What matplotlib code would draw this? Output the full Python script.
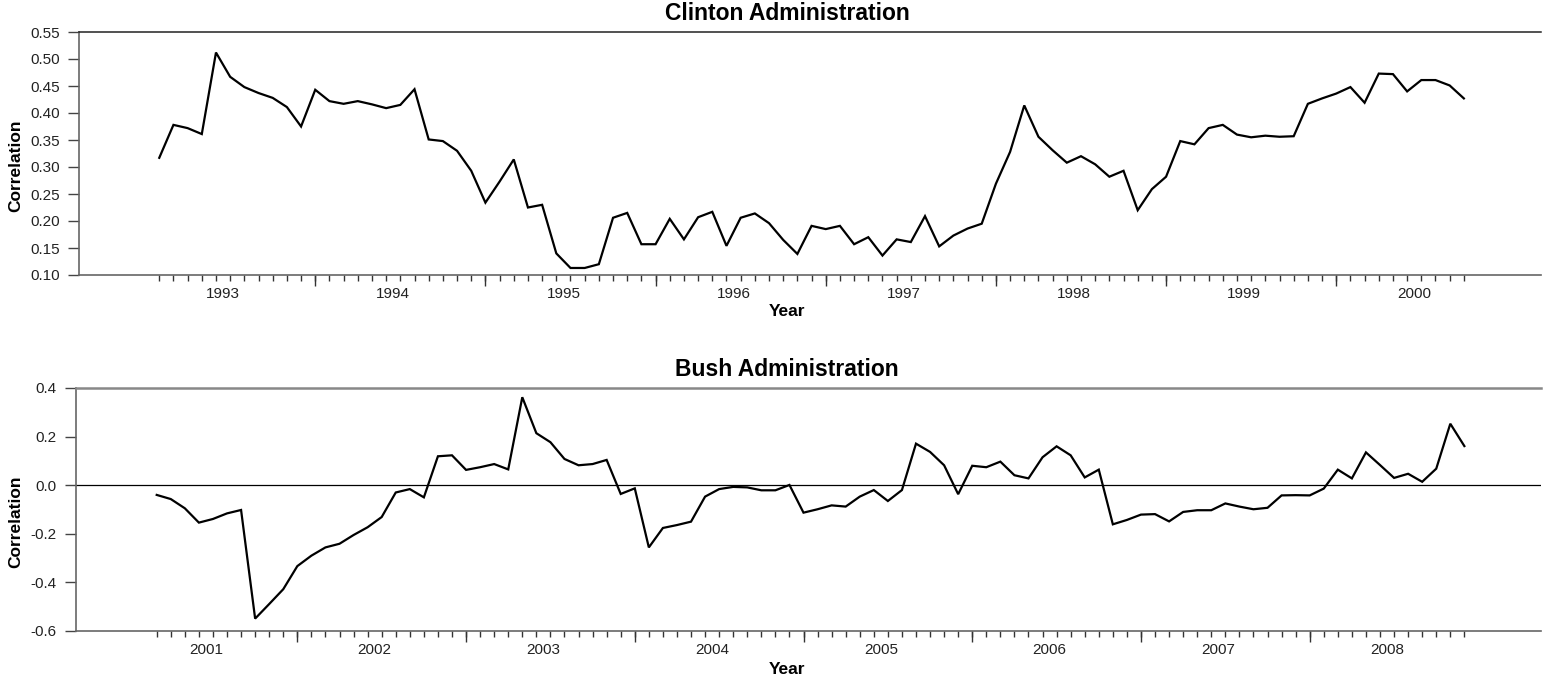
import matplotlib
matplotlib.use("Agg")
import matplotlib.pyplot as plt
from matplotlib.ticker import FixedLocator, NullFormatter

plt.rcParams['font.family'] = ['Liberation Sans', 'DejaVu Sans']
plt.rcParams['axes.unicode_minus'] = False

# Monthly correlation series
clinton_start = (1992, 8)
clinton_corr = [
    0.317, 0.378, 0.372, 0.361, 0.512, 0.467, 0.448, 0.437, 0.428, 0.411,
    0.375, 0.443, 0.422, 0.417, 0.422, 0.416, 0.409, 0.415, 0.444, 0.351,
    0.348, 0.330, 0.293, 0.234, 0.273, 0.314, 0.225, 0.230, 0.140, 0.113,
    0.113, 0.120, 0.206, 0.215, 0.157, 0.157, 0.204, 0.166, 0.207, 0.217,
    0.154, 0.206, 0.214, 0.196, 0.165, 0.139, 0.191, 0.185, 0.191, 0.157,
    0.170, 0.136, 0.166, 0.161, 0.209, 0.153, 0.173, 0.186, 0.195, 0.269,
    0.328, 0.414, 0.356, 0.331, 0.308, 0.320, 0.305, 0.282, 0.293, 0.220,
    0.259, 0.282, 0.348, 0.342, 0.372, 0.378, 0.360, 0.355, 0.358, 0.356,
    0.357, 0.417, 0.427, 0.436, 0.448, 0.419, 0.473, 0.472, 0.440, 0.461,
    0.461, 0.451, 0.427,
]

bush_start = (2000, 9)
bush_corr = [
    -0.040, -0.057, -0.095, -0.154, -0.139, -0.116, -0.102, -0.549, -0.489, -0.428,
    -0.333, -0.290, -0.256, -0.241, -0.205, -0.173, -0.131, -0.030, -0.016, -0.050,
    0.119, 0.123, 0.063, 0.074, 0.087, 0.065, 0.362, 0.214, 0.177, 0.108,
    0.082, 0.087, 0.104, -0.036, -0.013, -0.256, -0.176, -0.164, -0.150, -0.047,
    -0.016, -0.007, -0.009, -0.021, -0.021, 0.001, -0.113, -0.099, -0.083, -0.088,
    -0.047, -0.020, -0.065, -0.020, 0.171, 0.137, 0.082, -0.037, 0.080, 0.074,
    0.097, 0.041, 0.028, 0.115, 0.160, 0.123, 0.032, 0.064, -0.161, -0.143,
    -0.121, -0.119, -0.149, -0.110, -0.103, -0.103, -0.075, -0.088, -0.099, -0.093,
    -0.042, -0.041, -0.042, -0.014, 0.064, 0.028, 0.135, 0.083, 0.030, 0.047,
    0.014, 0.068, 0.253, 0.161,
]

clinton_yticks = [0.10, 0.15, 0.20, 0.25, 0.30, 0.35, 0.40, 0.45, 0.50, 0.55]
bush_yticks = [-0.6, -0.4, -0.2, 0.0, 0.2, 0.4]

W, H = 1543, 682
fig = plt.figure(figsize=(W / 100, H / 100), dpi=100)


def px_box(left, right, top, bottom):
    return [left / W, 1 - bottom / H, (right - left) / W, (bottom - top) / H]


def draw_panel(box, start, values, yticks, yfmt, xlim, top_color, top_lw):
    ax = fig.add_axes(box)
    n = len(values)
    x = list(range(n))
    ax.plot(x, values, color='black', lw=1.6, solid_joinstyle='miter')

    y0, m0 = start
    months = [(m0 - 1 + i) % 12 + 1 for i in x]
    years = [y0 + (m0 - 1 + i) // 12 for i in x]
    jan_pos = [i - 0.5 for i in x if months[i] == 1]
    jan_lab = [str(years[i]) for i in x if months[i] == 1]
    jul_pos = [i for i in x if months[i] == 7]

    ax.set_xlim(*xlim)
    ax.set_ylim(yticks[0], yticks[-1])

    # year labels (no tick mark) and a short tick at every month
    ax.xaxis.set_major_locator(FixedLocator(jan_pos))
    ax.set_xticklabels(jan_lab)
    ax.xaxis.set_minor_locator(FixedLocator(x))
    ax.xaxis.set_minor_formatter(NullFormatter())
    ax.tick_params(axis='x', which='major', length=0, pad=9, labelsize=11,
                   labelcolor='#222222')
    ax.tick_params(axis='x', which='minor', length=4, width=1.0, color='#333333')

    # longer mid-year ticks
    sec = ax.secondary_xaxis('bottom')
    sec.set_xticks(jul_pos)
    sec.tick_params(length=8, width=1.0, color='#333333', labelbottom=False)
    sec.spines['bottom'].set_visible(False)

    ax.set_yticks(yticks)
    ax.set_yticklabels([yfmt.format(v) for v in yticks])
    ax.tick_params(axis='y', length=8, width=1.0, color='#444444', pad=6,
                   labelsize=11, labelcolor='#222222')

    ax.spines['right'].set_visible(False)
    for s in ('left', 'bottom'):
        ax.spines[s].set_color('#666666')
        ax.spines[s].set_linewidth(1.2)
    ax.spines['top'].set_color(top_color)
    ax.spines['top'].set_linewidth(top_lw)
    return ax


ax1 = draw_panel(px_box(79, 1541, 32, 275), clinton_start, clinton_corr,
                 clinton_yticks, '{:.2f}', (-5.66, 97.44), '#222222', 1.1)
ax2 = draw_panel(px_box(76, 1541, 388, 631), bush_start, bush_corr,
                 bush_yticks, '{:.1f}', (-5.74, 98.45), '#888888', 1.8)
ax2.axhline(0, color='black', lw=0.9, zorder=1)


def fig_text(xp, yp, s, **kw):
    fig.text(xp / W, 1 - yp / H, s, ha='center', va='center', **kw)


fig_text(787, 14, 'Clinton Administration', fontsize=16.5, fontweight='bold')
fig_text(787, 369, 'Bush Administration', fontsize=16.5, fontweight='bold')
fig_text(787, 312, 'Year', fontsize=12.5, fontweight='bold')
fig_text(787, 669, 'Year', fontsize=12.5, fontweight='bold')
fig_text(16, 166, 'Correlation', fontsize=12.5, fontweight='bold', rotation=90)
fig_text(16, 522, 'Correlation', fontsize=12.5, fontweight='bold', rotation=90)

fig.savefig('out.png', dpi=100)
